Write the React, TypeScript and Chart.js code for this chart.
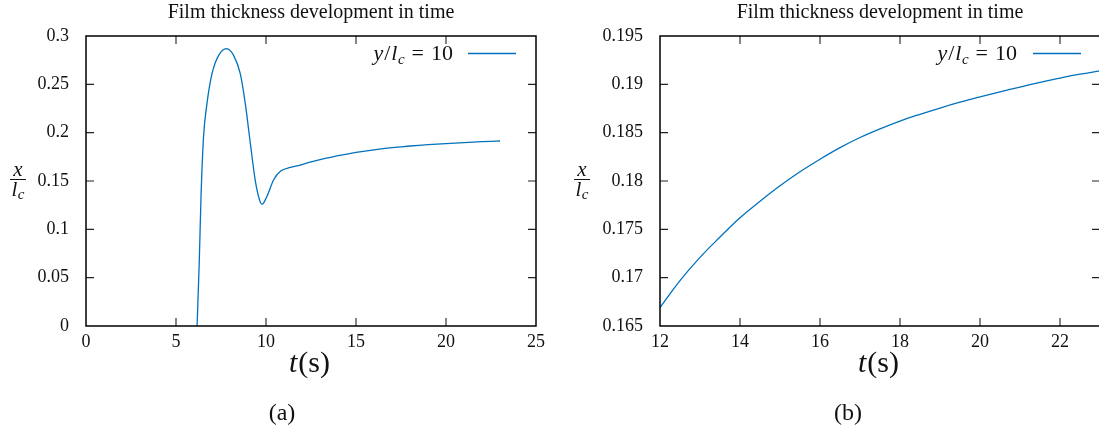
import { useEffect, useRef } from 'react';
import { Chart, registerables } from 'chart.js';

Chart.register(...registerables);

// Film thickness x/l_c sampled along time t (s), at y/l_c = 10
const timeS = [
  6.17, 6.29, 6.39, 6.53, 6.72, 7.0, 7.37, 7.8, 8.2, 8.57, 8.85, 9.13, 9.4, 9.65, 9.78,
  10.05, 10.42, 10.8, 11.35, 11.9, 12.0, 12.5, 13.0, 13.5, 14.0, 14.5, 15.0, 15.5, 16.0,
  16.5, 17.0, 17.5, 18.0, 18.5, 19.0, 19.5, 20.0, 20.5, 21.0, 21.5, 22.0, 22.5, 23.0,
];
const thickness = [
  0.0, 0.065, 0.134, 0.196, 0.23, 0.261, 0.28, 0.287, 0.28, 0.261, 0.23, 0.189, 0.151, 0.13, 0.126,
  0.134, 0.151, 0.16, 0.164, 0.1663, 0.1669, 0.1697, 0.1721, 0.1742, 0.1762, 0.1779, 0.1795, 0.18095, 0.18225,
  0.18345, 0.1845, 0.1854, 0.1862, 0.1869, 0.18755, 0.18815, 0.1887, 0.18922, 0.18972, 0.1902, 0.19065, 0.19105, 0.1914,
];

// Axis ticks of the full view (a) and the zoomed view (b)
const xTicksA = [0, 5, 10, 15, 20, 25];
const yTicksA = [0, 0.05, 0.1, 0.15, 0.2, 0.25, 0.3];
const xTicksB = [12, 14, 16, 18, 20, 22];
const yTicksB = [0.165, 0.17, 0.175, 0.18, 0.185, 0.19, 0.195];

const titleText = 'Film thickness development in time';
const legendValue = '10';
const captionA = '(a)';
const captionB = '(b)';

const SERIF = '"Liberation Serif", "Times New Roman", serif';
const LINE_COLOR = '#0072bd';
const CANVAS_W = 560;
const CANVAS_H = 434;

type Run = { t: string; italic?: boolean; size: number; dy?: number; gap?: number };

function runFont(r: Run) {
  return `${r.italic ? 'italic ' : ''}${r.size}px ${SERIF}`;
}

function drawRuns(ctx: CanvasRenderingContext2D, runs: Run[], x: number, y: number, align: 'left' | 'center' | 'right') {
  let total = 0;
  for (const r of runs) {
    ctx.font = runFont(r);
    total += ctx.measureText(r.t).width + (r.gap || 0);
  }
  let cx = align === 'left' ? x : align === 'center' ? x - total / 2 : x - total;
  ctx.textAlign = 'left';
  ctx.textBaseline = 'alphabetic';
  for (const r of runs) {
    ctx.font = runFont(r);
    ctx.fillText(r.t, cx, y + (r.dy || 0));
    cx += ctx.measureText(r.t).width + (r.gap || 0);
  }
}

type PanelSpec = {
  offset: number;
  xMin: number;
  xMax: number;
  yMin: number;
  yMax: number;
  xTicks: number[];
  yTicks: number[];
  fromT: number;
  smooth: 'monotone' | 'default';
  yAxisWidth: number;
  padRight: number;
  legendTextRight: number;
  legendLine: [number, number];
  fracCenter: number;
  xLabelCenter: number;
  caption: string;
  captionCenter: number;
};

const panelA: PanelSpec = {
  offset: 0,
  xMin: 0,
  xMax: 25,
  yMin: 0,
  yMax: 0.3,
  xTicks: xTicksA,
  yTicks: yTicksA,
  fromT: 0,
  smooth: 'monotone',
  yAxisWidth: 86,
  padRight: 24,
  legendTextRight: 453,
  legendLine: [468, 516],
  fracCenter: 18,
  xLabelCenter: 309.5,
  caption: captionA,
  captionCenter: 282,
};

const panelB: PanelSpec = {
  offset: 560,
  xMin: 12,
  xMax: 23,
  yMin: 0.165,
  yMax: 0.195,
  xTicks: xTicksB,
  yTicks: yTicksB,
  fromT: 11.9,
  smooth: 'default',
  yAxisWidth: 100,
  padRight: 20,
  legendTextRight: 1017,
  legendLine: [1033, 1081],
  fracCenter: 582,
  xLabelCenter: 878.5,
  caption: captionB,
  captionCenter: 848,
};

const fmt = (v: number | string) => String(Number(Number(v).toFixed(3)));

function buildChart(canvas: HTMLCanvasElement, p: PanelSpec) {
  const points = timeS
    .map((t, i) => ({ x: t, y: thickness[i] }))
    .filter((pt) => pt.x >= p.fromT);

  const framePlugin = {
    id: 'frameTicks',
    afterDatasetsDraw(chart: any) {
      const { ctx, chartArea } = chart;
      const { left, right, top, bottom } = chartArea;
      const xs = chart.scales.x;
      const ys = chart.scales.y;
      ctx.save();
      ctx.strokeStyle = '#222';
      ctx.lineWidth = 1.1;
      ctx.beginPath();
      for (const v of p.xTicks) {
        const px = xs.getPixelForValue(v);
        if (px < left + 1 || px > right - 1) continue;
        ctx.moveTo(px, bottom);
        ctx.lineTo(px, bottom - 8);
        ctx.moveTo(px, top);
        ctx.lineTo(px, top + 8);
      }
      for (const v of p.yTicks) {
        const py = ys.getPixelForValue(v);
        if (py < top + 1 || py > bottom - 1) continue;
        ctx.moveTo(left, py);
        ctx.lineTo(left + 8, py);
        ctx.moveTo(right, py);
        ctx.lineTo(right - 8, py);
      }
      ctx.stroke();
      ctx.strokeStyle = '#000';
      ctx.lineWidth = 1.5;
      ctx.strokeRect(left, top, right - left, bottom - top);
      ctx.restore();
    },
  };

  const textPlugin = {
    id: 'annotations',
    afterDraw(chart: any) {
      const { ctx, chartArea } = chart;
      const o = p.offset;
      ctx.save();
      ctx.fillStyle = '#111';

      // title
      drawRuns(ctx, [{ t: titleText, size: 20 }], (chartArea.left + chartArea.right) / 2, 18, 'center');

      // legend entry
      drawRuns(
        ctx,
        [
          { t: 'y', italic: true, size: 22, gap: 1 },
          { t: '/', size: 22, gap: 1 },
          { t: 'l', italic: true, size: 22, gap: 0.5 },
          { t: 'c', italic: true, size: 15, dy: 4, gap: 7 },
          { t: '=', size: 22, gap: 7 },
          { t: legendValue, size: 22 },
        ],
        p.legendTextRight - o,
        60,
        'right'
      );
      ctx.strokeStyle = LINE_COLOR;
      ctx.lineWidth = 1.3;
      ctx.beginPath();
      ctx.moveTo(p.legendLine[0] - o, 53.5);
      ctx.lineTo(p.legendLine[1] - o, 53.5);
      ctx.stroke();

      // y-axis label x / l_c
      const fc = p.fracCenter - o;
      drawRuns(ctx, [{ t: 'x', italic: true, size: 21 }], fc, 175.5, 'center');
      ctx.strokeStyle = '#111';
      ctx.lineWidth = 1;
      ctx.beginPath();
      ctx.moveTo(fc - 8, 179.5);
      ctx.lineTo(fc + 8, 179.5);
      ctx.stroke();
      drawRuns(
        ctx,
        [
          { t: 'l', italic: true, size: 21, gap: 0.5 },
          { t: 'c', italic: true, size: 15, dy: 3 },
        ],
        fc,
        196,
        'center'
      );

      // x-axis label t(s)
      drawRuns(
        ctx,
        [
          { t: 't', italic: true, size: 30, gap: 1 },
          { t: '(s)', size: 30 },
        ],
        p.xLabelCenter - o,
        372,
        'center'
      );

      // panel caption
      drawRuns(ctx, [{ t: p.caption, size: 24 }], p.captionCenter - o, 420, 'center');
      ctx.restore();
    },
  };

  return new Chart(canvas, {
    type: 'line',
    data: {
      datasets: [
        {
          data: points,
          borderColor: LINE_COLOR,
          borderWidth: 1.3,
          pointRadius: 0,
          fill: false,
          cubicInterpolationMode: p.smooth,
          tension: 0.4,
        },
      ],
    },
    options: {
      animation: false,
      responsive: false,
      maintainAspectRatio: false,
      devicePixelRatio: 1,
      layout: { padding: { left: 0, right: p.padRight, top: 36, bottom: 0 } },
      plugins: {
        legend: { display: false },
        title: { display: false },
        tooltip: { enabled: false },
      },
      scales: {
        x: {
          type: 'linear',
          min: p.xMin,
          max: p.xMax,
          grid: { display: false, drawTicks: false },
          border: { display: false },
          ticks: {
            color: '#111',
            font: { family: SERIF, size: 18 },
            padding: 5,
            maxRotation: 0,
            autoSkip: false,
            includeBounds: false,
            callback: (v: any) => fmt(v),
          },
          afterBuildTicks: (s: any) => {
            s.ticks = p.xTicks.map((value) => ({ value }));
          },
          afterFit: (s: any) => {
            s.height = CANVAS_H - 326;
          },
        },
        y: {
          type: 'linear',
          min: p.yMin,
          max: p.yMax,
          grid: { display: false, drawTicks: false },
          border: { display: false },
          ticks: {
            color: '#111',
            font: { family: SERIF, size: 18 },
            padding: 17,
            autoSkip: false,
            includeBounds: false,
            callback: (v: any) => fmt(v),
          },
          afterBuildTicks: (s: any) => {
            s.ticks = p.yTicks.map((value) => ({ value }));
          },
          afterFit: (s: any) => {
            s.width = p.yAxisWidth;
          },
        },
      },
    },
    plugins: [framePlugin, textPlugin],
  } as any);
}

function Panel({ spec }: { spec: PanelSpec }) {
  const ref = useRef<HTMLCanvasElement>(null);
  useEffect(() => {
    if (!ref.current) return;
    const chart = buildChart(ref.current, spec);
    return () => chart.destroy();
  }, [spec]);
  return (
    <canvas
      ref={ref}
      width={CANVAS_W}
      height={CANVAS_H}
      style={{ position: 'absolute', left: spec.offset, top: 0, width: CANVAS_W, height: CANVAS_H }}
    />
  );
}

export default function App() {
  return (
    <div
      style={{
        position: 'absolute',
        left: 0,
        top: 0,
        width: 1099,
        height: 434,
        overflow: 'hidden',
        background: '#fff',
      }}
    >
      <Panel spec={panelA} />
      <Panel spec={panelB} />
    </div>
  );
}
